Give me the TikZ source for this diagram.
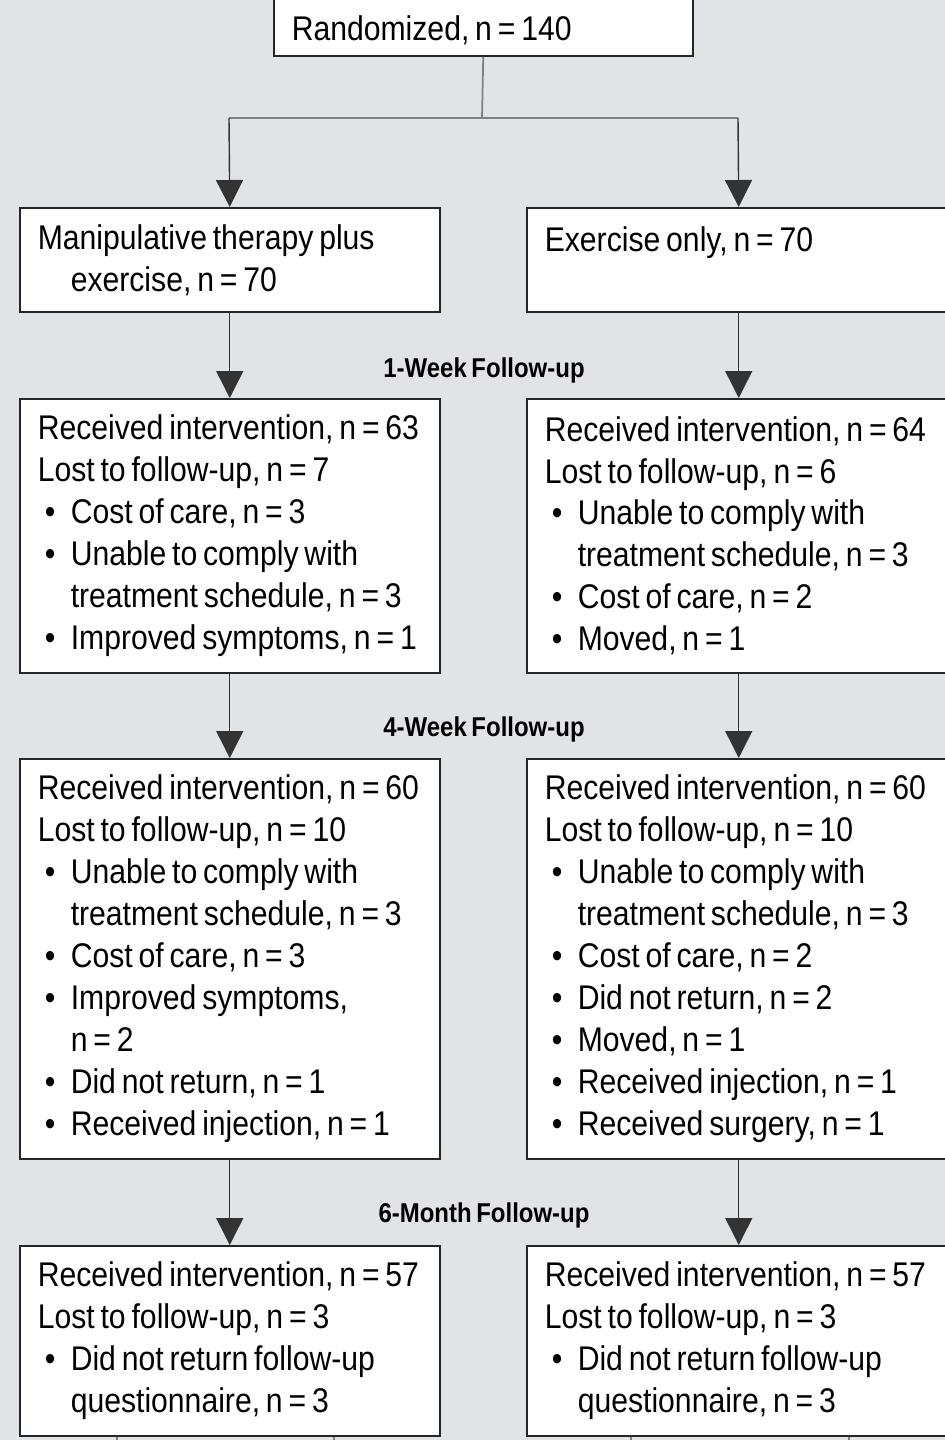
\documentclass[tikz,border=0pt]{standalone}
\usepackage{fontspec}
\setmainfont{Liberation Sans}[FakeStretch=0.88,WordSpace=0.7]
\usetikzlibrary{arrows.meta}
\definecolor{bgpanel}{RGB}{225,228,231}
\newcommand{\bul}{\hspace*{0.14cm}\makebox[0.52cm][l]{\textbullet}}
\newcommand{\cont}{\hspace*{0.66cm}}

\begin{document}
\begin{tikzpicture}[
  x=0.02cm,y=0.02cm,
  >={Triangle[width=0.54cm,length=0.54cm]},
  box/.style={draw=black!85,line width=0.9pt,fill=white,anchor=north west,
    align=flush left,inner xsep=0.36cm,inner ysep=0.2cm,
    execute at begin node={\spaceskip=0pt\xspaceskip=0pt},
    font=\fontsize{19.5}{23.9}\selectfont},
  lbox/.style={box,text width=7.68cm},
  rbox/.style={box,text width=7.76cm},
  flow/.style={->,draw=black!80,line width=0.8pt},
  stem/.style={draw=black!50,line width=1pt},
  stage/.style={font=\fontsize{15.5}{18}\selectfont\bfseries}
]
  \useasboundingbox (0,0) rectangle (945,-1440);
  \clip (0,0) rectangle (945,-1440);
  \fill[bgpanel] (0,0) rectangle (945,-1440);

  \node[box,anchor=south west,text width=7.66cm,inner ysep=0.12cm] (rand)
    at (273,-57) {\rule{0pt}{2cm}Randomized, n = 140\rule[-0.2cm]{0pt}{0pt}};

  \node[lbox,minimum height=2.08cm] (mt0) at (19,-207)
    {Manipulative therapy plus\\\cont exercise, n = 70};
  \node[rbox,minimum height=2.08cm] (ex0) at (526,-207)
    {Exercise only, n = 70\\\mbox{}};

  \node[lbox,minimum height=5.48cm] (mt1) at (19,-398)
    {Received intervention, n = 63\\
     Lost to follow-up, n = 7\\
     \bul Cost of care, n = 3\\
     \bul Unable to comply with\\
     \cont treatment schedule, n = 3\\
     \bul Improved symptoms, n = 1};
  \node[rbox,minimum height=5.48cm] (ex1) at (526,-398)
    {Received intervention, n = 64\\
     Lost to follow-up, n = 6\\
     \bul Unable to comply with\\
     \cont treatment schedule, n = 3\\
     \bul Cost of care, n = 2\\
     \bul Moved, n = 1};

  \node[lbox,minimum height=8cm] (mt4) at (19,-758)
    {Received intervention, n = 60\\
     Lost to follow-up, n = 10\\
     \bul Unable to comply with\\
     \cont treatment schedule, n = 3\\
     \bul Cost of care, n = 3\\
     \bul Improved symptoms,\\
     \cont n = 2\\
     \bul Did not return, n = 1\\
     \bul Received injection, n = 1};
  \node[rbox,minimum height=8cm] (ex4) at (526,-758)
    {Received intervention, n = 60\\
     Lost to follow-up, n = 10\\
     \bul Unable to comply with\\
     \cont treatment schedule, n = 3\\
     \bul Cost of care, n = 2\\
     \bul Did not return, n = 2\\
     \bul Moved, n = 1\\
     \bul Received injection, n = 1\\
     \bul Received surgery, n = 1};

  \node[lbox,minimum height=3.8cm] (mt6) at (19,-1245)
    {Received intervention, n = 57\\
     Lost to follow-up, n = 3\\
     \bul Did not return follow-up\\
     \cont questionnaire, n = 3};
  \node[rbox,minimum height=3.8cm] (ex6) at (526,-1245)
    {Received intervention, n = 57\\
     Lost to follow-up, n = 3\\
     \bul Did not return follow-up\\
     \cont questionnaire, n = 3};

  \node[stage] (wk1) at (484,-370) {1-Week Follow-up};
  \node[stage] (wk4) at (484,-729) {4-Week Follow-up};
  \node[stage] (mo6) at (484,-1215) {6-Month Follow-up};

  \coordinate (split) at (482,-118);
  \coordinate (lc) at (229,-118);
  \coordinate (rc) at (738,-118);
  \draw[stem] (rand.south) -- (split);
  \draw[stem] (lc) -- (rc);
  \draw[flow] (lc) -- (mt0.north);
  \draw[flow] (rc) -- (ex0.north);

  \draw[flow] (mt0) -- (mt1);
  \draw[flow] (ex0) -- (ex1);
  \draw[flow] (mt1) -- (mt4);
  \draw[flow] (ex1) -- (ex4);
  \draw[flow] (mt4) -- (mt6);
  \draw[flow] (ex4) -- (ex6);

  \coordinate (sa) at (117,-1445);
  \coordinate (sb) at (334,-1445);
  \coordinate (sc) at (631,-1445);
  \coordinate (sd) at (849,-1445);
  \draw[stem] (mt6.south -| sa) -- (sa);
  \draw[stem] (mt6.south -| sb) -- (sb);
  \draw[stem] (ex6.south -| sc) -- (sc);
  \draw[stem] (ex6.south -| sd) -- (sd);
\end{tikzpicture}
\end{document}
